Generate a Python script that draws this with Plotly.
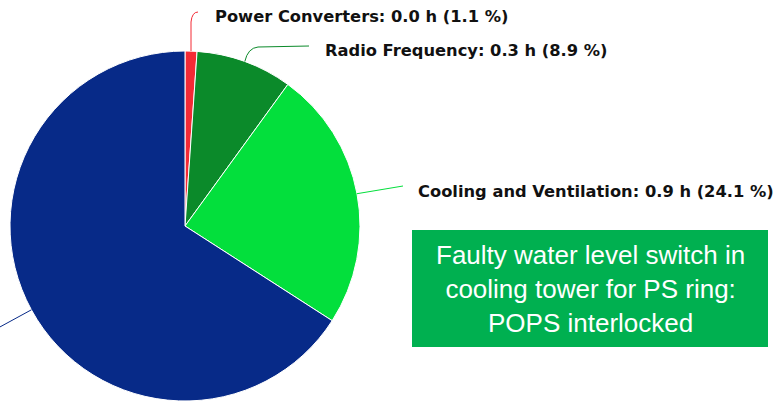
import math
import plotly.graph_objects as go

# ---- data ----
categories = ["Power Converters", "Radio Frequency", "Cooling and Ventilation", "Other"]
hours = [0.0, 0.3, 0.9, 2.5]
percents = [1.1, 8.9, 24.1, 65.9]
colors = ["#f42a35", "#0b8a2a", "#03df3c", "#072a88"]
note_text = "Faulty water level switch in<br>cooling tower for PS ring:<br>POPS interlocked"

W, H = 782, 401
# pie geometry in pixels (layout)
CX, CY, R = 185, 226, 175

fig = go.Figure()
fig.add_trace(go.Pie(
    labels=categories, values=percents, sort=False, direction="clockwise",
    rotation=0, textinfo="none", hoverinfo="label+percent",
    marker=dict(colors=colors, line=dict(color="white", width=1)),
    domain=dict(x=[(CX - R - 1) / W, (CX + R + 1) / W], y=[0, (H - (CY - R)) / H]),
    showlegend=False,
))

# mid-angle edge points from data
total = sum(percents)
edge = []
acc = 0.0
for p in percents:
    mid = (acc + p / 2) / total * 2 * math.pi
    acc += p
    edge.append((CX + R * math.sin(mid), CY - R * math.cos(mid)))

# label layout (text anchor x, y; connector end)
label_pos = [(213, 16), (323, 50), (416, 191), None]
shapes = []
# Power Converters connector
sx, sy = edge[0]
shapes.append(dict(type="path", path=f"M {sx:.1f},{sy:.1f} L {sx:.1f},22 Q {sx+1:.1f},12 198,12",
                   line=dict(color=colors[0], width=1), xref="x", yref="y"))
# Radio Frequency connector
sx, sy = edge[1]
shapes.append(dict(type="path", path=f"M {sx:.1f},{sy:.1f} Q {sx+3:.1f},48 258,47 L 309,46",
                   line=dict(color=colors[1], width=1), xref="x", yref="y"))
# Cooling connector
sx, sy = edge[2]
shapes.append(dict(type="path", path=f"M {sx:.1f},{sy:.1f} L 403,186",
                   line=dict(color=colors[2], width=1), xref="x", yref="y"))
# Other connector (label outside the visible area)
sx, sy = edge[3]
shapes.append(dict(type="path", path=f"M {sx:.1f},{sy:.1f} L -2,328",
                   line=dict(color=colors[3], width=1), xref="x", yref="y"))
# note box
shapes.append(dict(type="rect", x0=412, x1=768, y0=230, y1=347, fillcolor="#00b050",
                   line=dict(width=0), xref="x", yref="y", layer="above"))

annotations = []
for i in range(3):
    lx, ly = label_pos[i]
    annotations.append(dict(
        x=lx, y=ly, xref="x", yref="y", xanchor="left", yanchor="middle", showarrow=False,
        text=f"<b>{categories[i]}: {hours[i]:.1f} h ({percents[i]:.1f} %)</b>",
        font=dict(family="DejaVu Sans", size=16.3, color="#111111"),
    ))
annotations.append(dict(
    x=590, y=289, xref="x", yref="y", xanchor="center", yanchor="middle", showarrow=False,
    text=note_text, align="center",
    font=dict(family="Liberation Sans, Arial", size=26, color="white"),
))

fig.update_layout(
    width=W, height=H, margin=dict(l=0, r=0, t=0, b=0),
    paper_bgcolor="white", plot_bgcolor="rgba(0,0,0,0)",
    xaxis=dict(range=[0, W], visible=False, fixedrange=True, domain=[0, 1]),
    yaxis=dict(range=[H, 0], visible=False, fixedrange=True, domain=[0, 1]),
    shapes=shapes, annotations=annotations,
)
fig.write_html("out.html", config={"displayModeBar": False},
               post_script="document.body.style.margin='0';")
